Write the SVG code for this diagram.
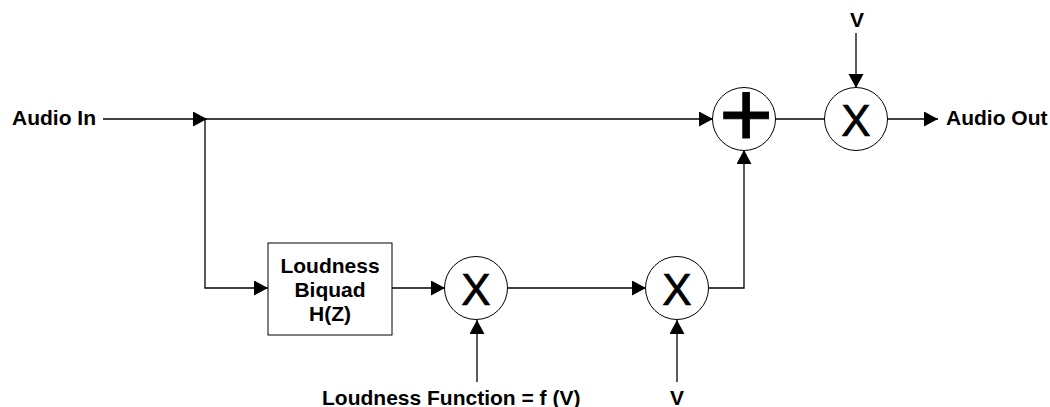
<svg xmlns="http://www.w3.org/2000/svg" width="1050" height="407" viewBox="0 0 1050 407">
<defs>
<marker id="arr" markerUnits="userSpaceOnUse" markerWidth="15" markerHeight="16" refX="14" refY="7.5" orient="auto">
<path d="M0,0 L14,7.5 L0,15 z" fill="#000"/>
</marker>
<style>
.lbl{font-family:"Liberation Sans",Arial,sans-serif;font-weight:bold;font-size:21px;fill:#000}
.op{font-family:"Liberation Sans",Arial,sans-serif;font-size:44px;fill:#000;stroke:#000;stroke-width:0.7;text-anchor:middle}
.node{fill:#fff;stroke:#000;stroke-width:1}
.wire{fill:none;stroke:#000;stroke-width:1.3}
.arr{marker-end:url(#arr)}
</style>
</defs>
<rect width="1050" height="407" fill="#fff"/>
<g id="connectors">
<path class="wire arr" d="M103,119 H207"/>
<path class="wire arr" d="M205,119 H713"/>
<path class="wire arr" d="M205,119 V288 H268"/>
<path class="wire arr" d="M392,288 H445"/>
<path class="wire arr" d="M477,382 V320"/>
<path class="wire arr" d="M507,288 H646"/>
<path class="wire arr" d="M677,382 V320"/>
<path class="wire arr" d="M708,288 H744 V150"/>
<path class="wire" d="M775,119 H825"/>
<path class="wire arr" d="M856,33 V88"/>
<path class="wire arr" d="M887,119 H938"/>
</g>
<g id="audio-in"><text class="lbl" x="12" y="125">Audio In</text></g>
<g id="audio-out"><text class="lbl" x="946" y="125">Audio Out</text></g>
<g id="biquad">
<rect class="node" x="268" y="243" width="124" height="92"/>
<text class="lbl" x="330" y="273" text-anchor="middle">Loudness</text>
<text class="lbl" x="330" y="297" text-anchor="middle">Biquad</text>
<text class="lbl" x="330" y="321" text-anchor="middle">H(Z)</text>
</g>
<g id="mult1">
<circle class="node" cx="476" cy="288" r="31.5"/>
<text class="op" x="476" y="305">X</text>
</g>
<g id="mult2">
<circle class="node" cx="677" cy="288" r="31.5"/>
<text class="op" x="677" y="305">X</text>
</g>
<g id="sum">
<circle class="node" cx="744" cy="119" r="31.5"/>
<text x="746" y="146" font-family="'Liberation Sans',Arial,sans-serif" font-size="92" stroke="#000" stroke-width="1" text-anchor="middle">+</text>
</g>
<g id="mult3">
<circle class="node" cx="856" cy="119" r="31.5"/>
<text class="op" x="856" y="136">X</text>
</g>
<g id="v-top"><text class="lbl" x="857" y="27" text-anchor="middle">V</text></g>
<g id="loudness-fn"><text class="lbl" x="322" y="405">Loudness Function = f (V)</text></g>
<g id="v-bottom"><text class="lbl" x="677" y="405" text-anchor="middle">V</text></g>
</svg>
